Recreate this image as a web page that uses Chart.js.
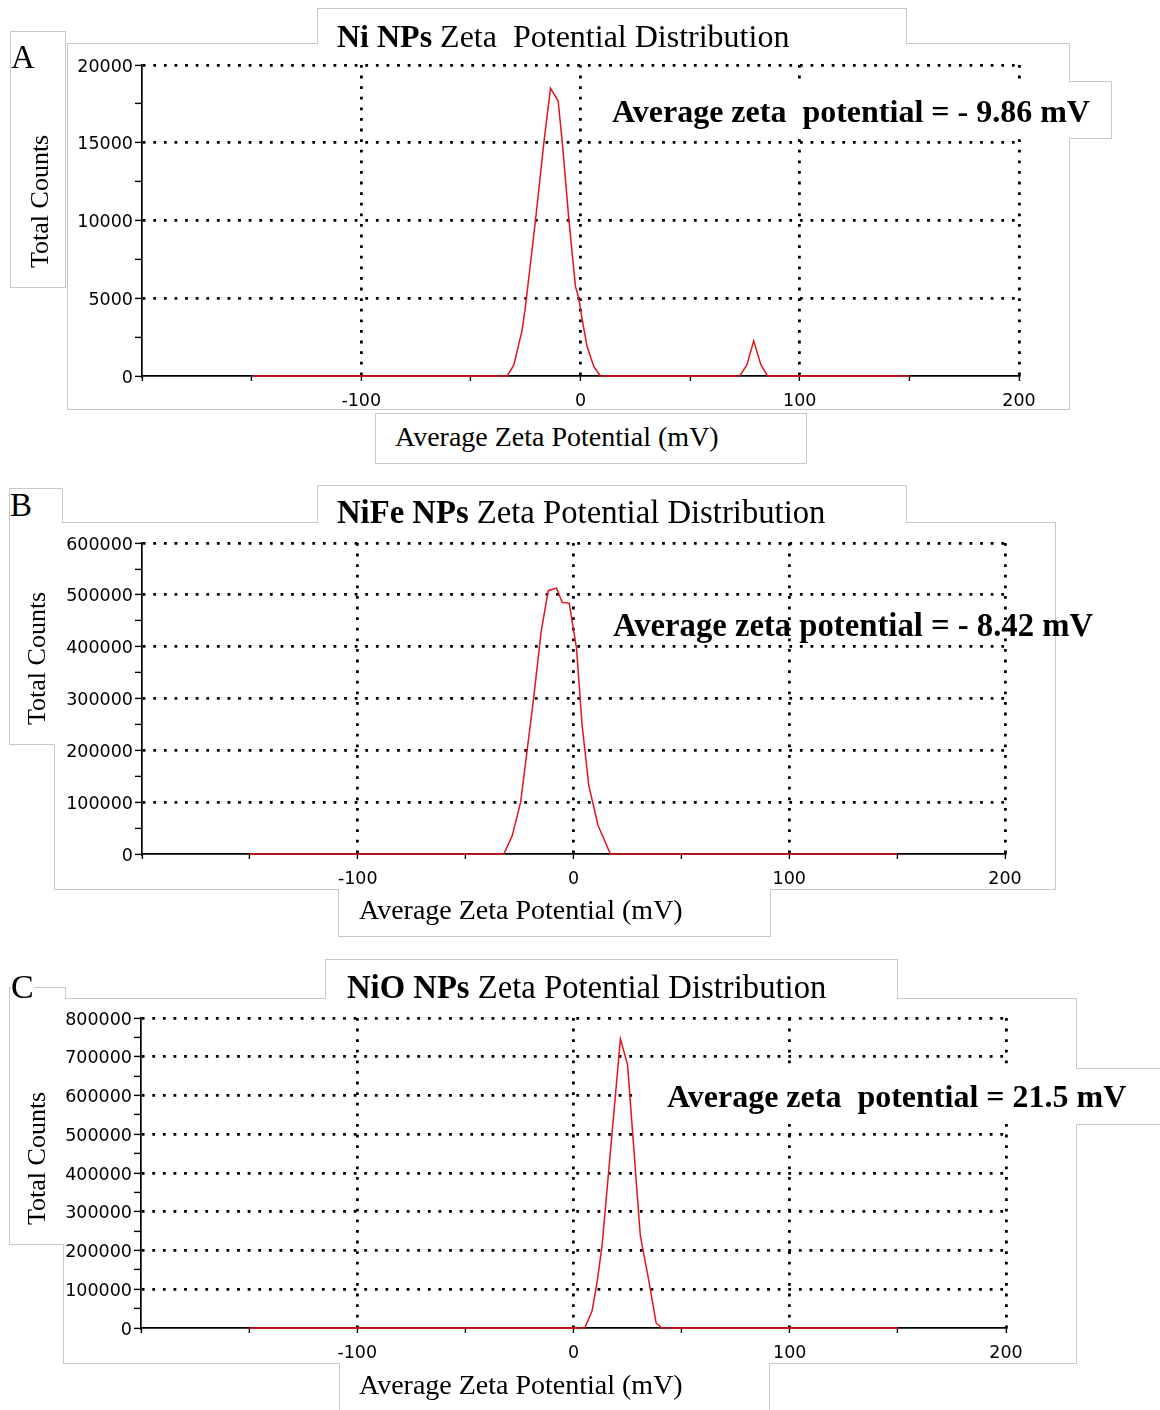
<!DOCTYPE html>
<html lang="en">
<head>
<meta charset="UTF-8" />
<title>Zeta Potential Distribution</title>
<script src="https://cdn.jsdelivr.net/npm/chart.js@4.4.1/dist/chart.umd.min.js"></script>
<style>
  body { margin: 0; background: #fff; }
  #page { position: relative; width: 1160px; height: 1410px; overflow: hidden; background: #fff; }
  .box { position: absolute; box-sizing: border-box; background: #fff; z-index: 0; }
  .edge { border: 1px solid #c8c8c8; }
  .cover { position: absolute; background: #fff; z-index: 2; }
  canvas { position: absolute; z-index: 1; }
  .txt { position: absolute; z-index: 3; font-family: "Liberation Serif", "Times New Roman", serif; color: #000; white-space: pre; line-height: 1; }
  .title { font-size: 32px; }
  .avg { font-size: 32px; font-weight: bold; }
  .xt { font-size: 28px; }
  .yt { font-size: 26px; transform-origin: 0 0; transform: rotate(-90deg); }
  .tag { font-size: 33px; background: #fff; }
</style>
</head>
<body>
<div id="page">
  <canvas id="chartA"></canvas>
  <canvas id="chartB"></canvas>
  <canvas id="chartC"></canvas>

  <div class="txt tag" style="left:11px;top:41px">A</div>
  <div class="txt title" style="left:337px;top:20px"><b>Ni NPs</b> Zeta  Potential Distribution</div>
  <div class="txt avg" style="left:612px;top:95px">Average zeta  potential = - 9.86 mV</div>
  <div class="txt yt" style="left:27px;top:268px">Total Counts</div>
  <div class="txt xt" style="left:395px;top:423px">Average Zeta Potential (mV)</div>

  <div class="txt tag" style="left:10px;top:489px">B</div>
  <div class="txt title" style="left:337px;top:496px;font-size:32.7px"><b>NiFe NPs</b> Zeta Potential Distribution</div>
  <div class="txt avg" style="left:613px;top:609px;font-size:32.7px">Average zeta potential = - 8.42 mV</div>
  <div class="txt yt" style="left:24px;top:725px">Total Counts</div>
  <div class="txt xt" style="left:359px;top:896px">Average Zeta Potential (mV)</div>

  <div class="txt tag" style="left:11px;top:970px;font-size:34px">C</div>
  <div class="txt title" style="left:347px;top:971px;font-size:32.7px"><b>NiO NPs</b> Zeta Potential Distribution</div>
  <div class="txt avg" style="left:667px;top:1080px">Average zeta  potential = 21.5 mV</div>
  <div class="txt yt" style="left:24px;top:1225px">Total Counts</div>
  <div class="txt xt" style="left:359px;top:1371px">Average Zeta Potential (mV)</div>
</div>

<script>
  // zeta potential (mV) and total counts
  const potA = [-150, -33.4, -30.4, -26.6, -25.1, -20.5, -16.7, -13.7, -10.2, -8.3, -5.3, -2.3, -0.8, 0.8, 3.0, 6.1, 9.1, 72.6, 75.9, 79.0, 82.3, 85.3, 150];
  const countsA = [0, 0, 710, 2970, 4470, 10060, 15010, 18500, 17700, 15010, 10060, 5760, 5010, 3610, 1890, 600, 0, 0, 710, 2260, 710, 0, 0];

  const potB = [-150, -32.3, -28.4, -24.5, -21.4, -18.4, -15.0, -11.7, -7.9, -5.2, -2.0, 1.4, 4.0, 7.1, 11.4, 17.1, 150];
  const countsB = [0, 0, 35000, 100000, 203000, 303000, 429000, 508000, 513000, 485000, 484000, 397000, 248000, 132000, 55000, 0, 0];

  const potC = [-150, 5.2, 8.6, 10.9, 13.2, 21.7, 25.0, 30.9, 34.7, 38.2, 40.9, 150];
  const countsC = [0, 0, 44600, 118000, 212000, 746000, 679000, 238000, 126000, 13000, 0, 0];

  const xLabels = [-100, 0, 100, 200];
  const yMaxA = 20000, yStepA = 2500, yLabelStepA = 5000;
  const yMaxB = 600000, yStepB = 50000, yLabelStepB = 100000;
  const yMaxC = 800000, yStepC = 50000, yLabelStepC = 100000;

  // grey outlines of the pasted panels (each group is one merged outline)
  const outlines = [
    [[67, 43, 1069, 409], [317, 8, 906, 46], [600, 81, 1111, 138]],
    [[10, 31, 65, 287]],
    [[375, 413, 806, 463]],
    [[54, 522, 1055, 889], [9, 488, 62, 744], [317, 485, 906, 524], [338, 887, 770, 936]],
    [[63, 998, 1076, 1363], [9, 987, 65, 1244], [325, 959, 897, 1000], [640, 1068, 1175, 1124], [339, 1361, 769, 1420]]
  ];
  const page = document.getElementById("page");
  function addBox(cls, x1, y1, x2, y2) {
    const d = document.createElement("div");
    d.className = cls;
    d.style.left = x1 + "px";
    d.style.top = y1 + "px";
    d.style.width = (x2 - x1 + 1) + "px";
    d.style.height = (y2 - y1 + 1) + "px";
    page.insertBefore(d, page.firstChild);
  }
  // inserted at the front, so add fills first then edges -> edges sit under fills
  outlines.slice().reverse().forEach((g) => {
    g.forEach((r) => addBox("box", r[0] + 1, r[1] + 1, r[2] - 1, r[3] - 1));
    g.forEach((r) => addBox("box edge", r[0], r[1], r[2], r[3]));
  });
  // white label boxes that hide the grid
  addBox("cover", 600, 82, 1068, 137);
  addBox("cover", 640, 1069, 1075, 1123);

  Chart.defaults.color = "#000";
  const tickFont = { family: "DejaVu Sans", size: 17.5 };
  const DOT = [2.8, 7.8];
  const PAD_T = 14, PAD_R = 30, XH = 45;

  function makeChart(id, xs, ys, yMax, yStep, yLabelStep, area) {
    const canvas = document.getElementById(id);
    canvas.width = area.right + PAD_R;
    canvas.height = area.bottom - area.top + PAD_T + XH;
    canvas.style.left = "0px";
    canvas.style.top = (area.top - PAD_T) + "px";

    new Chart(canvas.getContext("2d"), {
      type: "line",
      data: {
        datasets: [{
          data: xs.map((x, i) => ({ x: x, y: ys[i] })),
          borderColor: "#e3141c",
          borderWidth: 1.5,
          pointRadius: 0,
          tension: 0,
          clip: false,
        }],
      },
      options: {
        responsive: false,
        animation: false,
        events: [],
        layout: { padding: { top: PAD_T, right: PAD_R, left: 0, bottom: 0 } },
        plugins: { legend: { display: false }, tooltip: { enabled: false } },
        scales: {
          x: {
            type: "linear",
            min: -200,
            max: 200,
            afterFit: (s) => { s.height = XH; },
            ticks: {
              stepSize: 50, autoSkip: false, maxRotation: 0, padding: 10, font: tickFont,
              callback: (v) => (xLabels.includes(v) ? String(v) : ""),
            },
            grid: {
              color: (c) => (c.tick && c.tick.value % 100 === 0 && c.tick.value > -200 ? "#000" : "rgba(0,0,0,0)"),
              lineWidth: 2.8, tickColor: "#000", tickWidth: 1.4, tickLength: 5,
            },
            border: { display: true, color: "#000", width: 1.7, dash: DOT },
          },
          y: {
            min: 0,
            max: yMax,
            afterFit: (s) => { s.width = area.left; },
            ticks: {
              stepSize: yStep, autoSkip: false, padding: 2, labelOffset: 2, font: tickFont,
              callback: (v) => (v % yLabelStep === 0 ? String(v) : ""),
            },
            grid: {
              color: (c) => (c.tick && c.tick.value % yLabelStep === 0 && c.tick.value > 0 ? "#000" : "rgba(0,0,0,0)"),
              lineWidth: 2.8, tickColor: "#000", tickWidth: 1.4, tickLength: 7,
            },
            border: { display: true, color: "#000", width: 1.7, dash: DOT },
          },
        },
      },
    });
  }

  makeChart("chartA", potA, countsA, yMaxA, yStepA, yLabelStepA, { left: 142, top: 65, right: 1019, bottom: 376 });
  makeChart("chartB", potB, countsB, yMaxB, yStepB, yLabelStepB, { left: 142, top: 543, right: 1005, bottom: 854 });
  makeChart("chartC", potC, countsC, yMaxC, yStepC, yLabelStepC, { left: 141, top: 1018, right: 1006, bottom: 1328 });
</script>
</body>
</html>
